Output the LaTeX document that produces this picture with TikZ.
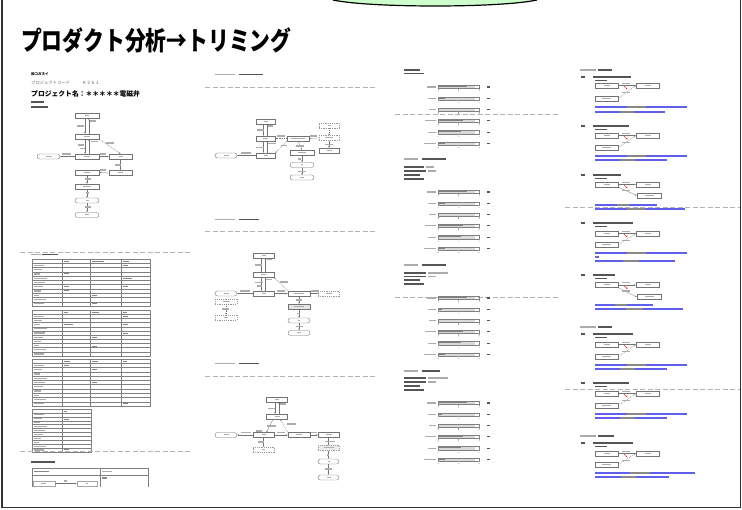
\documentclass[tikz,border=0pt]{standalone}
\usepackage{fontspec}
\newfontfamily\cjk{Noto Sans CJK JP}
\usetikzlibrary{arrows.meta}
\definecolor{tabgreen}{RGB}{204,255,204}
\definecolor{txtc}{RGB}{172,172,172}
\definecolor{txtd}{RGB}{85,85,85}
\definecolor{linkb}{RGB}{95,95,235}
\tikzset{
  fb/.style={draw=black!55, line width=0.35pt, minimum width=23pt, minimum height=5pt, inner sep=0pt, fill=white},
  fr/.style={fb, rounded corners=2.5pt},
  fd/.style={fb, draw=black!40, dash pattern=on 1.2pt off 1pt},
  ed/.style={draw=black!55, line width=0.3pt, -{Stealth[length=1.8pt,width=1.4pt]}},
  edd/.style={ed, dash pattern=on 1pt off 0.8pt},
  pbreak/.style={draw=black!30, line width=0.6pt, dash pattern=on 5pt off 2.5pt},
  tline/.style={draw=black!50, line width=0.35pt},
}
\newcommand\nt[1]{\textcolor{txtc}{\rule{#1pt}{1pt}}}
\newcommand\tbar[4][txtc]{\fill[#1] (#2,#3-0.6) rectangle ++(#4,1.2);}
\newcommand\dbar[3]{\fill[txtd] (#1,#2-0.7) rectangle ++(#3,1.4);}
\newcommand\cel[4]{\fill[txtd!70] (#1+1.5,#2+#3*4.25-2.7) rectangle ++(#4,1.2);}
\newcommand\tgrid[5]{%
  \pgfmathsetmacro\rh{(#3-#2)/#4}
  \draw[tline] (32,#2) rectangle (#1,#3);
  \foreach \r in {1,...,#4}{\draw[tline] (32,#2+\r*\rh) -- (#1,#2+\r*\rh);}
  \foreach \c in {#5}{\draw[tline] (\c,#2) -- (\c,#3);}
  \foreach \r in {2,...,#4}{\pgfmathsetmacro\ll{5+mod(\r*7,9)}
    \fill[txtc] (33.5,#2+\r*\rh-0.5*\rh-0.6) rectangle ++(\ll,1.2);}
}
\newcommand\chart[7]{%
  \foreach \i/\f/\l in {0/#2/9,1/#3/8,2/#4/7,3/#5/11,4/#6/8,5/#7/12}{%
    \pgfmathsetmacro\yy{#1+\i*11.3}
    \fill[txtc] (436-\l,\yy-0.6) rectangle ++(\l,1.2);
    \fill[black!15] (438,\yy-1.6) rectangle (475,\yy+1.6);
    \fill[black!50] (438,\yy-1.6) rectangle (438+41*\f,\yy+0.3);
    \draw[black!50,line width=0.3pt] (438,\yy-1.6) rectangle (479,\yy+1.6);
    \draw[black!40,line width=0.25pt] (438,\yy+1.6) -- (438,\yy+3) (458.5,\yy+1.6) -- (458.5,\yy+3) (479,\yy+1.6) -- (479,\yy+3);
    \fill[txtc] (437.5,\yy+3.6) rectangle ++(1,0.8) (458,\yy+3.6) rectangle ++(1,0.8) (478.5,\yy+3.6) rectangle ++(1,0.8);
    \fill[txtd] (487,\yy-0.6) rectangle ++(3,1.2);
  }}
\newcommand\bhead[2]{%
  \fill[txtd] (581,#1-0.6) rectangle ++(4,1.2);
  \fill[txtd] (593,#1-0.7) rectangle ++(#2,1.4);
  \fill[txtd] (595,#1+3.3) rectangle ++(12,1.2);}
\newcommand\bline[2]{%
  \fill[linkb] (595,#1-0.55) rectangle ++(#2,1.1);
  \fill[txtd!70] (595+0.35*#2,#1-0.55) rectangle ++(0.2*#2,1.1);}
\newcommand\blkL[2]{%
  \node[fb] (bA) at (606.5,#1) {\nt{6}};
  \node[fb] (bB) at (647.5,#1) {\nt{6}};
  \node[fb] (bC) at (606.5,#2) {\nt{9}};
  \draw[ed] (bA) -- (bB);
  \fill[txtc] (622,#1-2.9) rectangle ++(8,1.1);
  \draw[red,line width=0.4pt,-{Stealth[length=1.5pt,width=1.3pt]}] (624,#1+0.8) -- (627.5,#1+3.8);
  \draw[edd] (bC.east) -- (bB.west);
  \fill[txtc] (622,#1+6.2) rectangle ++(8,1.1);}
\newcommand\blkR[2]{%
  \node[fb] (bA) at (606.5,#1) {\nt{6}};
  \node[fb] (bB) at (647.5,#1) {\nt{6}};
  \node[fb,minimum width=24pt] (bC) at (649,#2) {\nt{9}};
  \draw[ed] (bA) -- (bB);
  \fill[txtc] (622,#1-2.9) rectangle ++(8,1.1);
  \draw[red,line width=0.4pt,-{Stealth[length=1.5pt,width=1.3pt]}] (624,#1+0.8) -- (627.5,#1+3.8);
  \draw[ed] (bA.south east) -- (bC.west);
  \fill[txtc] (622,#1+5.5) rectangle ++(8,1.1);}
\begin{document}
\begin{tikzpicture}[x={(1pt,0pt)},y={(0pt,-1pt)}]
\useasboundingbox (0,0) rectangle (742,510);
\fill[white] (0,0) rectangle (742,510);
% frame and tab
\draw[black!80, line width=1.2pt] (2,-3) rectangle (740.5,507.5);
\fill[tabgreen] (333,-1) -- (333,0) .. controls (370,8) and (500,8) .. (537,0) -- (537,-1) -- cycle;
\draw[black, line width=1.2pt] (333,0) .. controls (370,8) and (500,8) .. (537,0);
% title
\node[anchor=base west, inner sep=0pt, font=\cjk\bfseries\fontsize{26}{26}\selectfont, xscale=0.8] (title) at (21,51) {プロダクト分析→トリミング};

% ---------- column 1 ----------
\node[anchor=base west, inner sep=0pt, font=\cjk\bfseries\fontsize{3.5}{4}\selectfont] (co) at (31,75.3) {㈱コガネイ};
\node[anchor=base west, inner sep=0pt, font=\cjk\fontsize{4.3}{5}\selectfont, text=black!60] (pc) at (31,84.5) {プロジェクトコード};
\node[anchor=base west, inner sep=0pt, font=\cjk\fontsize{4.3}{5}\selectfont, text=black!60] (pk) at (82,84.5) {Ｋ２６１};
\node[anchor=base west, inner sep=0pt, font=\cjk\bfseries\fontsize{6.8}{7}\selectfont] (pn) at (31,96.5) {プロジェクト名：＊＊＊＊＊電磁弁};
\dbar{31}{102}{13}
\dbar{31}{107}{17}
% flowchart 1
\node[fb,minimum width=24pt] (a1) at (87,116) {\nt{4}};
\node[fb,minimum width=24pt] (a2) at (87,136.5) {\nt{6}};
\node[fr] (a3) at (48.5,156.5) {\nt{6}};
\node[fb,minimum width=24pt] (a4) at (87,156.5) {\nt{6}};
\node[fb] (a5) at (120.5,156.5) {\nt{4}};
\node[fb,minimum width=24pt] (a6) at (87,172.5) {\nt{6}};
\node[fb] (a7) at (120.5,173) {\nt{5}};
\node[fb,minimum width=24pt] (a8) at (87,186.5) {\nt{8}};
\node[fr,minimum width=24pt] (a9) at (87,200.5) {\nt{3}};
\node[fr,minimum width=24pt] (a10) at (87,215) {\nt{4}};
\draw[ed] ([xshift=-2pt]a1.south) -- ([xshift=-2pt]a2.north);
\draw[ed] ([xshift=2pt]a2.north) -- ([xshift=2pt]a1.south);
\tbar{77}{126}{7} \tbar{90}{121}{6}
\draw[ed] ([xshift=-2pt]a2.south) -- ([xshift=-2pt]a4.north);
\draw[ed] ([xshift=2pt]a4.north) -- ([xshift=2pt]a2.south);
\tbar{78}{145}{6} \tbar{91}{141.5}{7} \tbar{80}{148.5}{5}
\draw[ed] (a4.west) -- (a3.east); \tbar{62}{154}{9}
\draw[ed] (a4.east) -- (a5.west); \tbar{100}{154}{6}
\draw[edd] (a2.south east) -- (a5.north); \tbar{106}{143}{8}
\draw[ed] (a5.south) -- (a7.north); \tbar{115}{165}{6}
\draw[ed] (a7.west) -- (a6.east); \tbar{100}{170}{6}
\draw[ed] (a6.south) -- (a8.north); \tbar{85}{179}{6}
\draw[ed] (a8.south) -- (a9.north); \tbar{86}{193}{3}
\draw[ed] (a9.south) -- (a10.north); \tbar{85}{207}{6}
% page break + matrix
\draw[pbreak] (20,252) -- (190,252);
\tbar{31}{254.5}{10} \tbar[txtd]{42}{254.5}{16}
\tgrid{150}{259}{306}{11}{62,90,121}
\cel{62}{259}{1}{5} \cel{90}{259}{1}{12} \cel{121}{259}{1}{6}
\cel{121}{259}{2}{5} \cel{62}{259}{4}{5} \cel{121}{259}{5}{9} \cel{62}{259}{7}{5}
\cel{121}{259}{7}{5} \cel{62}{259}{8}{5} \cel{90}{259}{9}{5} \cel{90}{259}{11}{5}
\tgrid{150}{310}{356}{11}{62,90,121}
\cel{62}{310}{1}{4} \cel{90}{310}{1}{7} \cel{121}{310}{1}{4} \cel{121}{310}{2}{5}
\cel{62}{310}{4}{9} \cel{121}{310}{4}{5} \cel{121}{310}{6}{5} \cel{90}{310}{7}{5} \cel{90}{310}{9}{5}
\tgrid{150}{359}{406}{11}{62,90,121}
\cel{62}{359}{1}{6} \cel{90}{359}{1}{6} \cel{121}{359}{1}{4} \cel{62}{359}{2}{5}
\cel{90}{359}{3}{5} \cel{90}{359}{6}{5} \cel{121}{359}{11}{5}
\tgrid{91}{409}{452}{11}{62}
\cel{62}{409}{1}{3} \cel{62}{409}{3}{5} \cel{62}{409}{10}{5}
\draw[pbreak] (20,451) -- (190,451);
\dbar{31}{462}{24}
\draw[tline] (32,487) -- (32,468) -- (148,468) -- (148,487);
\draw[tline] (32,475) -- (148,475);
\draw[tline] (100,468) -- (100,487);
\tbar[txtd!70]{34}{471.5}{15} \tbar{102}{471.5}{10} \tbar[txtd!70]{102}{478}{5}
\node[fb,draw=black!35,minimum width=22pt] (z1) at (44,483.5) {\nt{5}};
\node[fb,draw=black!35,minimum width=20pt] (z2) at (87,483.5) {\nt{2}};
\draw[ed] (z1) -- (z2); \tbar{64}{481}{3}

% ---------- column 2 ----------
\tbar{215}{74.5}{20} \dbar{239}{74.5}{24}
\draw[pbreak] (205,87) -- (375,87);
\node[fb,minimum width=19.5pt] (m1) at (265.5,121.5) {\nt{4}};
\node[fb,minimum width=19.5pt] (m2) at (265.5,138.5) {\nt{5}};
\node[fb,minimum width=22pt] (m3) at (298,138.5) {\nt{14}};
\node[fr,minimum width=22pt] (m4) at (226,155.5) {\nt{5}};
\node[fb,minimum width=19.5pt] (m5) at (265.5,155.5) {\nt{4}};
\node[fb,minimum width=24pt] (m6) at (302,152.5) {\nt{8}};
\node[fr,minimum width=24pt] (m7) at (302,165) {\nt{2}};
\node[fr,minimum width=24pt] (m8) at (302,177.5) {\nt{4}};
\node[fd,minimum width=20pt] (m9) at (329,125.5) {\nt{3}};
\node[fd,minimum width=20pt] (m10) at (329,138) {\nt{8}};
\node[fb,minimum width=20pt] (m11) at (329,150.5) {\nt{5}};
\draw[ed] ([xshift=-2pt]m1.south) -- ([xshift=-2pt]m2.north);
\draw[ed] ([xshift=2pt]m2.north) -- ([xshift=2pt]m1.south);
\tbar{257}{130}{7} \tbar{268}{126}{5}
\draw[ed] ([xshift=-2pt]m2.south) -- ([xshift=-2pt]m5.north);
\draw[ed] ([xshift=2pt]m5.north) -- ([xshift=2pt]m2.south);
\tbar{256}{147.5}{8} \tbar{268}{143.5}{8}
\draw[ed] (m5.west) -- (m4.east); \tbar{241}{153}{10}
\draw[edd] (m3.west) -- (m2.east); \tbar{277}{136}{8}
\draw[edd] (m3.south west) -- (m5.north east); \tbar{281}{145.5}{6}
\draw[ed] (m3.south) -- (m6.north); \tbar{296}{146}{8}
\draw[ed] (m6) -- (m7); \tbar{298}{159}{3}
\draw[ed] (m7) -- (m8); \tbar{298}{171.5}{8}
\draw[edd] (m10.west) -- (m3.east); \tbar{310}{136}{7}
\draw[edd] (m9) -- (m10);
\draw[ed] (m10) -- (m11); \tbar{325}{144.5}{8}

\tbar{215}{219.5}{20} \dbar{239}{219.5}{20}
\draw[pbreak] (205,231) -- (375,231);
\node[fb,minimum width=21pt] (p1) at (263.5,255.5) {\nt{4}};
\node[fb,minimum width=21pt] (p2) at (263.5,275) {\nt{5}};
\node[fr,minimum width=22pt] (p3) at (226,293.5) {\nt{5}};
\node[fb,minimum width=21pt] (p4) at (263.5,293.5) {\nt{4}};
\node[fb,minimum width=22pt] (p5) at (299,293.5) {\nt{10}};
\node[fd,minimum width=21pt] (p6) at (328.5,293.5) {\nt{6}};
\node[fd,minimum width=22pt] (p7) at (226,301.5) {\nt{7}};
\node[fd,minimum width=22pt] (p8) at (226,317.5) {\nt{4}};
\node[fb,minimum width=22pt,fill=black!10] (p9) at (299,306.5) {\nt{10}};
\node[fr,minimum width=22pt] (p10) at (299,320.5) {\nt{2}};
\node[fr,minimum width=22pt] (p11) at (299,333) {\nt{4}};
\draw[ed] ([xshift=-2pt]p1.south) -- ([xshift=-2pt]p2.north);
\draw[ed] ([xshift=2pt]p2.north) -- ([xshift=2pt]p1.south);
\tbar{255}{265}{7} \tbar{267}{259.5}{5}
\draw[ed] ([xshift=-2pt]p2.south) -- ([xshift=-2pt]p4.north);
\draw[ed] ([xshift=2pt]p4.north) -- ([xshift=2pt]p2.south);
\tbar{255}{282.5}{8} \tbar{257}{286}{5} \tbar{266}{279.5}{6}
\draw[ed] (p4) -- (p3); \tbar{240}{291}{10}
\draw[ed] (p4) -- (p5); \tbar{277}{291}{8}
\draw[ed] (p5) -- (p6); \tbar{311}{291}{8}
\draw[edd] (p5.north west) -- (p2.south east); \tbar{280}{282}{8}
\draw[ed] (p5) -- (p9); \tbar{296}{300}{6}
\draw[ed] (p9) -- (p10); \tbar{297}{313.5}{3}
\draw[ed] (p10) -- (p11); \tbar{296}{326.5}{7}
\draw[edd] (p7) -- (p8); \tbar{222}{309}{7}

\tbar{215}{363.5}{20} \dbar{239}{363.5}{20}
\draw[pbreak] (205,376) -- (375,376);
\node[fb,minimum width=21pt] (q1) at (277,399.5) {\nt{4}};
\node[fb,minimum width=21pt] (q2) at (277,416.5) {\nt{5}};
\node[fr,minimum width=22pt] (q3) at (226,435) {\nt{5}};
\node[fb,minimum width=21pt] (q4) at (263.5,435) {\nt{4}};
\node[fb,minimum width=22pt] (q5) at (299,435) {\nt{6}};
\node[fb,minimum width=21pt] (q6) at (328.5,435) {\nt{6}};
\node[fd,minimum width=21pt] (q7) at (263.5,449.5) {\nt{3}};
\node[fd,minimum width=21pt,fill=black!8] (q8) at (328.5,448) {\nt{10}};
\node[fr,minimum width=21pt] (q9) at (328.5,461.5) {\nt{2}};
\node[fr,minimum width=21pt] (q10) at (328.5,477.5) {\nt{4}};
\draw[ed] ([xshift=-2pt]q1.south) -- ([xshift=-2pt]q2.north);
\draw[ed] ([xshift=2pt]q2.north) -- ([xshift=2pt]q1.south);
\tbar{268}{408.5}{7} \tbar{280}{404}{6}
\draw[ed] ([xshift=-4pt]q2.south) -- ([xshift=3pt]q4.north); \tbar{267}{426}{9} \tbar{256}{431}{6}
\draw[edd] (q5.north west) -- ([xshift=3pt]q2.south); \tbar{287}{424}{9}
\draw[ed] (q4) -- (q3); \tbar{241}{432.5}{10}
\draw[ed] (q4) -- (q5); \tbar{277}{432.5}{8}
\draw[ed] (q5) -- (q6); \tbar{311}{432.5}{6}
\draw[ed] (q4) -- (q7); \tbar{258}{442}{6}
\draw[ed] (q6) -- (q8); \tbar{325}{441.5}{10}
\draw[ed] (q8) -- (q9); \tbar{327}{455}{2}
\draw[ed] (q9) -- (q10); \tbar{325}{469}{7}

% ---------- column 3 ----------
\dbar{404}{70}{16} \dbar{404}{73.5}{20}
\chart{87}{0.7}{0.17}{0}{0.6}{0.55}{0.17}
\draw[pbreak] (395,114) -- (560,114);
\tbar{404}{159}{14} \dbar{422}{159}{24}
\dbar{404}{167}{20} \tbar{426}{167}{8}
\dbar{404}{171}{22} \tbar{428}{171}{8}
\dbar{404}{175}{16}
\dbar{404}{179}{20}
\chart{192}{0.7}{0.17}{0}{0.6}{0.55}{0.17}
\tbar{404}{265}{14} \dbar{422}{265}{24}
\dbar{404}{273}{22} \tbar{428}{273}{20}
\dbar{404}{276.5}{22} \tbar{428}{276.5}{8}
\dbar{404}{280}{16}
\dbar{404}{284}{20}
\draw[pbreak] (395,297) -- (560,297);
\chart{298}{0.7}{0.1}{0}{0.6}{0.55}{0.17}
\tbar{404}{371}{14} \dbar{422}{371}{18}
\dbar{404}{378}{22} \tbar{428}{378}{20}
\dbar{404}{382}{22} \tbar{428}{382}{8}
\dbar{404}{386}{16}
\dbar{404}{390}{20}
\chart{403}{0.7}{0.1}{0}{0.6}{0.55}{0.17}

% ---------- column 4 ----------
\tbar{580}{70}{16} \dbar{598}{70}{14}
\bhead{77}{38}
\blkL{85.5}{98.5}
\bline{107}{92} \bline{112}{70}
\bhead{126}{36}
\blkL{135.5}{147.5}
\bline{156}{92} \bline{160}{72}
\bhead{175}{28}
\blkR{184.5}{195.5}
\draw[pbreak] (565,207) -- (740,207);
\bline{205}{62} \bline{209}{90}
\bhead{223}{40}
\blkL{233.5}{245}
\bline{253}{92} \bline{257}{4} \bline{261}{80}
\bhead{275}{22}
\blkR{285}{297}
\bline{305}{58} \bline{309}{88}
\tbar{580}{327}{16} \dbar{598}{327}{14}
\bhead{334}{40}
\blkL{344.5}{356.5}
\bline{365}{92} \bline{369}{72}
\bhead{383}{36}
\draw[pbreak] (565,389) -- (740,389);
\blkL{393.5}{405.5}
\bline{414}{92} \bline{418}{72}
\tbar{580}{436}{16} \dbar{598}{436}{16}
\bhead{443}{40}
\blkL{453.5}{464.5}
\bline{473}{100} \bline{477}{74}
\end{tikzpicture}
\end{document}
